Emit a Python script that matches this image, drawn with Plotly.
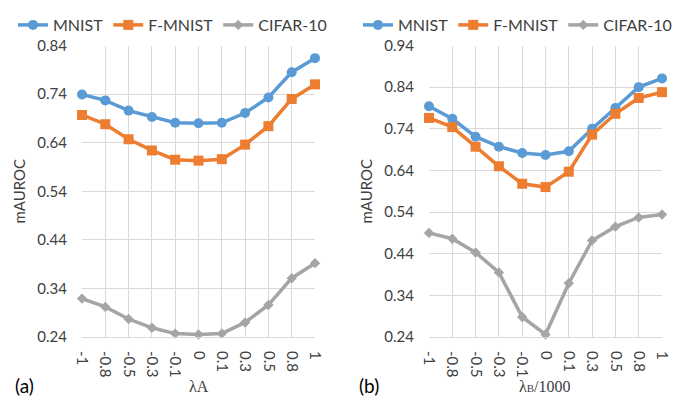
import plotly.graph_objects as go

categories = ["-1", "-0.8", "-0.5", "-0.3", "-0.1", "0", "0.1", "0.3", "0.5", "0.8", "1"]

# Panel (a): lambda_A
a_mnist = [0.739, 0.727, 0.706, 0.693, 0.681, 0.680, 0.681, 0.701, 0.733, 0.785, 0.814]
a_fmnist = [0.697, 0.678, 0.647, 0.624, 0.605, 0.603, 0.606, 0.636, 0.674, 0.730, 0.760]
a_cifar = [0.319, 0.302, 0.277, 0.259, 0.247, 0.245, 0.247, 0.270, 0.306, 0.361, 0.392]

# Panel (b): lambda_B / 1000
b_mnist = [0.794, 0.764, 0.721, 0.697, 0.682, 0.677, 0.686, 0.740, 0.790, 0.840, 0.861]
b_fmnist = [0.766, 0.744, 0.697, 0.650, 0.608, 0.600, 0.637, 0.726, 0.776, 0.814, 0.828]
b_cifar = [0.490, 0.476, 0.443, 0.395, 0.288, 0.246, 0.369, 0.472, 0.505, 0.527, 0.534]

names = ["MNIST", "F-MNIST", "CIFAR-10"]
colors = ["#5B9BD5", "#ED7D31", "#A5A5A5"]
symbols = ["circle", "square", "diamond"]
msizes = [10, 10, 8]

FONT = "Lato, Liberation Sans, sans-serif"
GRID = "#d9d9d9"
TXT = "#404040"

# the page body has an 8px margin, so the figure is laid out in page pixels minus 8
OFF = 8
W, H = 686 - OFF, 408 - OFF


def px(x):
    return (x - OFF) / W


def py(y):
    return 1 - (y - OFF) / H


fig = go.Figure()

panels = [
    ([a_mnist, a_fmnist, a_cifar], "x", "y", "legend"),
    ([b_mnist, b_fmnist, b_cifar], "x2", "y2", "legend2"),
]
for series, xa, ya, lg in panels:
    for vals, nm, col, sym, ms in zip(series, names, colors, symbols, msizes):
        fig.add_trace(go.Scatter(
            x=categories, y=vals, name=nm, mode="lines+markers",
            line=dict(color=col, width=3.5),
            marker=dict(symbol=sym, size=ms, color=col),
            xaxis=xa, yaxis=ya, legend=lg, cliponaxis=False,
        ))

xcommon = dict(type="category", range=[0, 10], showgrid=True, gridcolor=GRID, gridwidth=1,
               showline=True, linecolor=GRID, linewidth=1, ticks="", tickangle=90,
               ticklabelstandoff=10, automargin=False,
               tickfont=dict(family=FONT, size=15, color=TXT), zeroline=False)
ycommon = dict(dtick=0.1, showgrid=True, gridcolor=GRID, gridwidth=1, zeroline=False,
               showline=False, ticks="", tickformat=".2f", ticklabelstandoff=14,
               automargin=False,
               tickfont=dict(family=FONT, size=15, color=TXT),
               title=dict(text="mAUROC", font=dict(family=FONT, size=15, color=TXT), standoff=8))

y0 = py(337)
y1 = py(45.5)

fig.update_layout(
    width=W, height=H, margin=dict(l=0, r=0, t=0, b=0),
    paper_bgcolor="white", plot_bgcolor="white",
    xaxis=dict(domain=[px(82), px(315)], anchor="y", **xcommon),
    yaxis=dict(domain=[y0, y1], anchor="x", range=[0.24, 0.84], tick0=0.24, **ycommon),
    xaxis2=dict(domain=[px(429), px(662)], anchor="y2", **xcommon),
    yaxis2=dict(domain=[y0, y1], anchor="x2", range=[0.24, 0.94], tick0=0.24, **ycommon),
    legend=dict(orientation="h", x=px(13), y=1.0, xanchor="left", yanchor="top",
                font=dict(family=FONT, size=16, color=TXT), bgcolor="rgba(0,0,0,0)",
                tracegroupgap=0),
    legend2=dict(orientation="h", x=px(358), y=1.0, xanchor="left", yanchor="top",
                 font=dict(family=FONT, size=16, color=TXT), bgcolor="rgba(0,0,0,0)",
                 tracegroupgap=0),
    annotations=[
        dict(text="(a)", x=px(13), y=py(385), xref="paper", yref="paper",
             xanchor="left", yanchor="middle", showarrow=False,
             font=dict(family=FONT, size=19, color="#000000")),
        dict(text="(b)", x=px(357), y=py(385), xref="paper", yref="paper",
             xanchor="left", yanchor="middle", showarrow=False,
             font=dict(family=FONT, size=19, color="#000000")),
        dict(text="λA", x=px(199), y=py(386), xref="paper", yref="paper",
             xanchor="center", yanchor="middle", showarrow=False,
             font=dict(family="Liberation Serif, serif", size=16, color=TXT)),
        dict(text="λ<span style='font-size:11px'>B</span>/1000", x=px(545), y=py(386),
             xref="paper", yref="paper", xanchor="center", yanchor="middle", showarrow=False,
             font=dict(family="Liberation Serif, serif", size=16, color=TXT)),
    ],
)

fig.write_html("out.html")
